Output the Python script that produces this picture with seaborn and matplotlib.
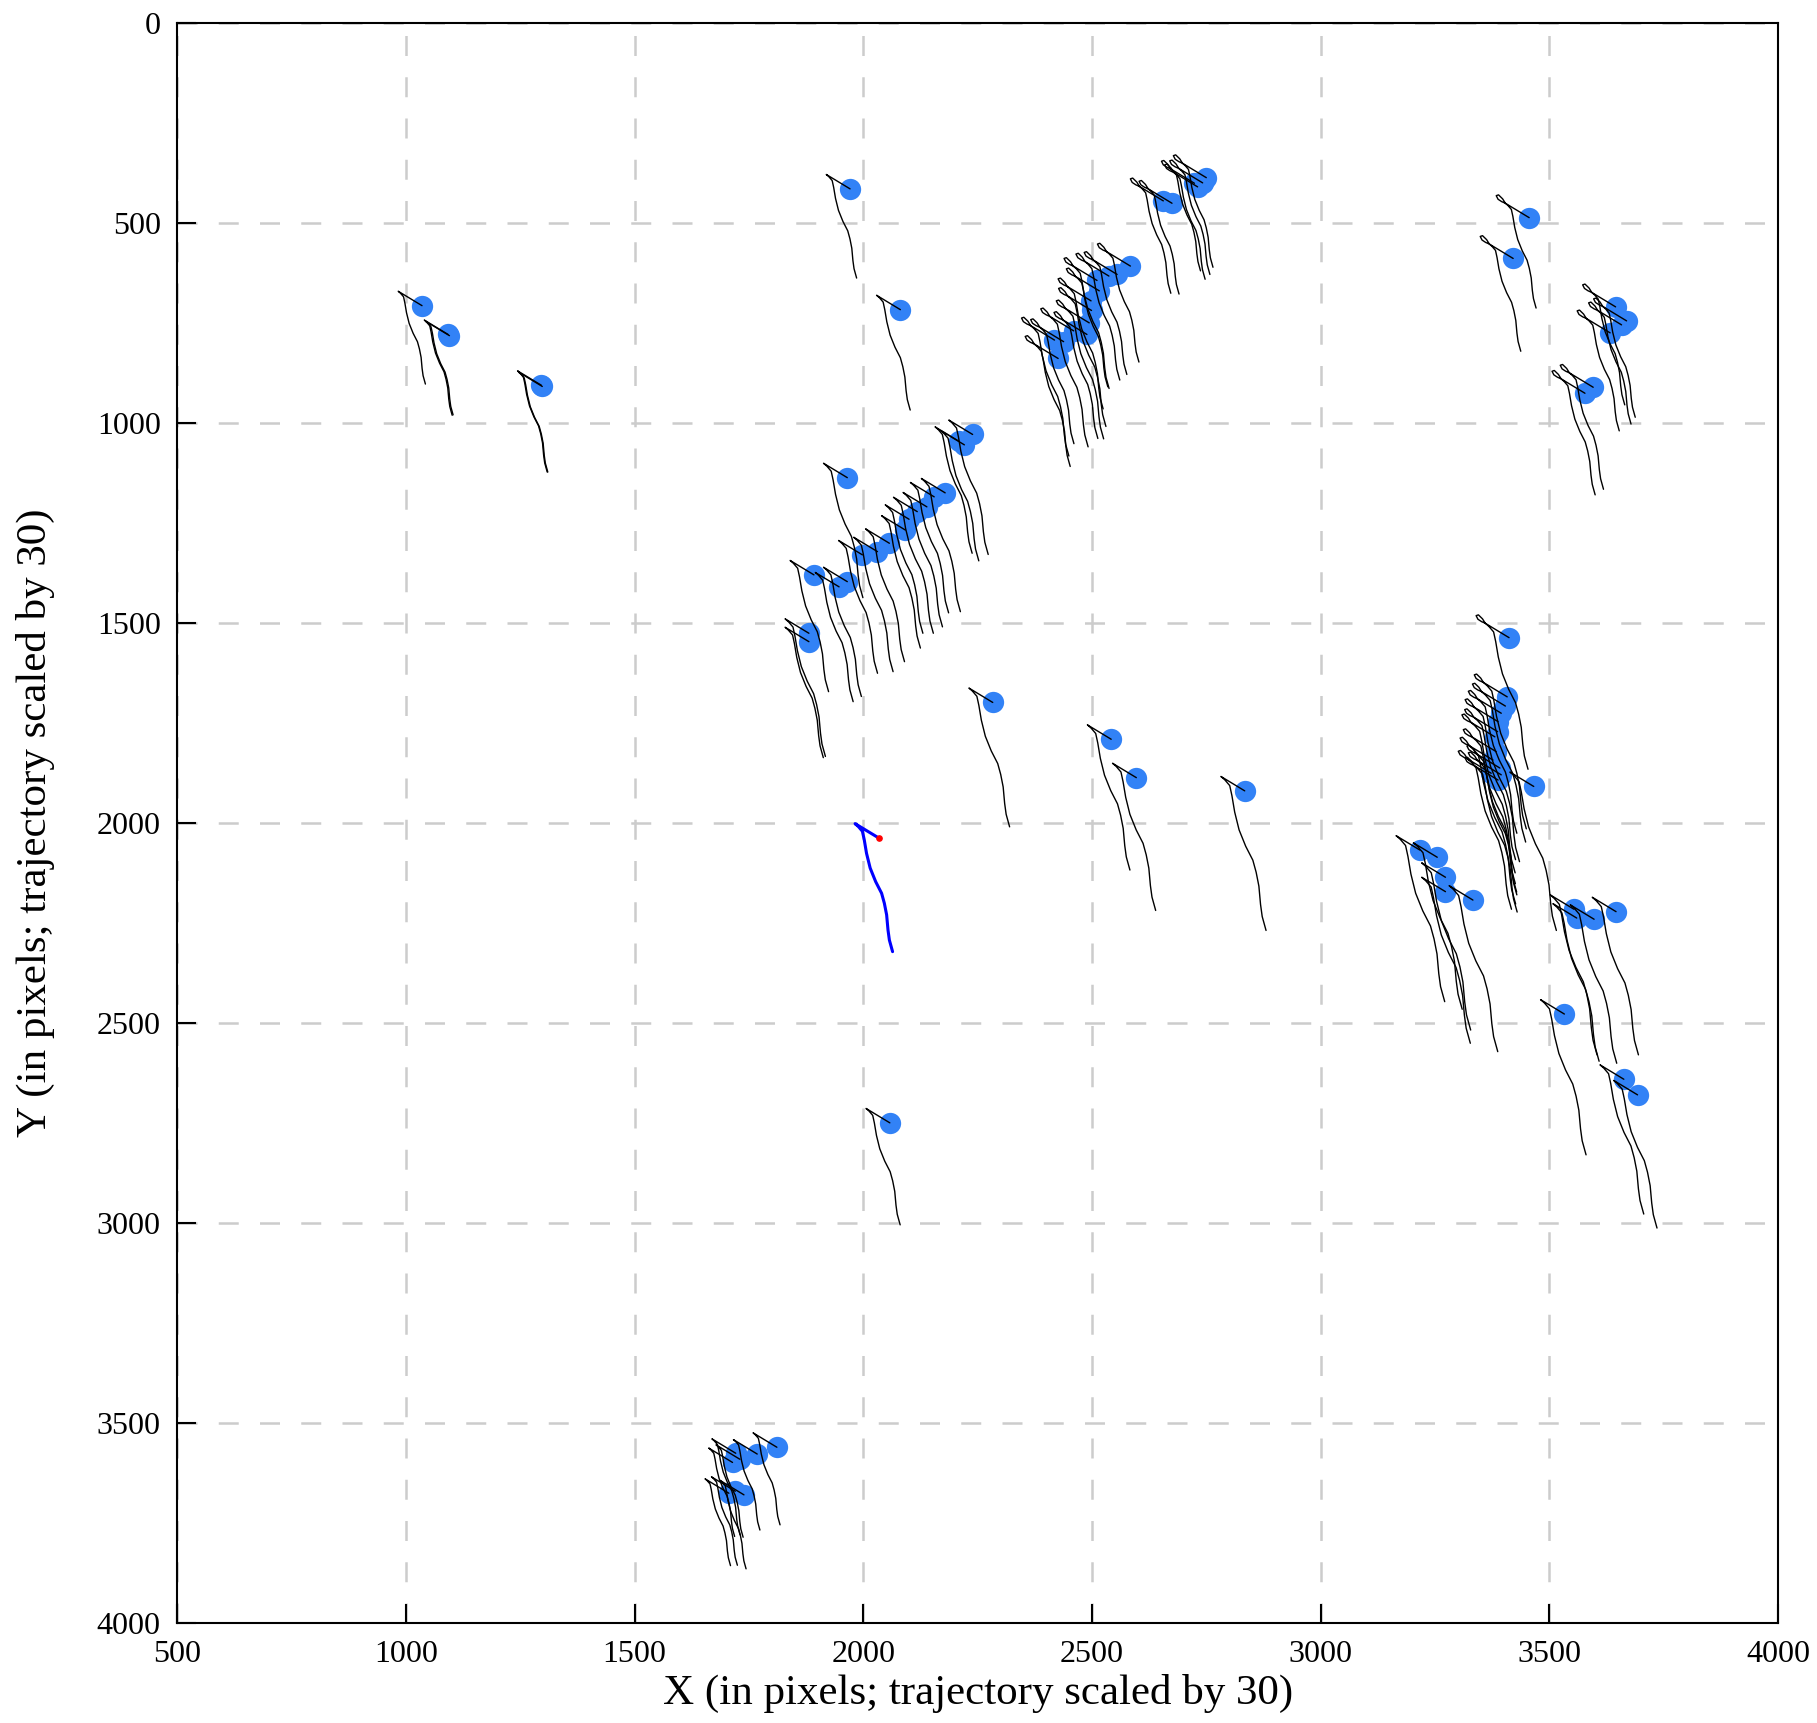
import numpy as np
import pandas as pd
import matplotlib
matplotlib.use("Agg")
import matplotlib.pyplot as plt
import seaborn as sns

# ---- data -------------------------------------------------------------
# current positions (blue dots) of the agents, image pixels
DOT_X = [1035, 1092, 1095, 1296, 1298,
         1971, 2081,
         2418, 2438, 2426, 2460, 2489, 2494, 2499, 2498, 2516, 2511, 2537, 2555, 2584,
         2656, 2675, 2750, 2742, 2731, 2724,
         3456, 3421, 3645, 3669, 3633, 3658, 3596, 3578,
         2239, 2221, 2209, 2179, 2155, 2139, 2118, 2100, 2092, 2057, 2031, 1998, 1965, 1947,
         1892, 1881, 1881, 1965,
         2283, 2542, 2597, 2834,
         3412, 3408, 3404, 3395, 3388, 3387, 3381, 3384, 3377, 3392, 3388, 3373, 3395, 3466,
         3217, 3255, 3273, 3273, 3333,
         3554, 3560, 3598, 3646,
         3533, 3663, 3693,
         2058,
         1811, 1768, 1721, 1714, 1730, 1739, 1706, 1720]
DOT_Y = [706, 778, 781, 905, 908,
         414, 716,
         792, 796, 838, 769, 778, 749, 718, 694, 669, 643, 632, 628, 607,
         444, 450, 386, 399, 409, 400,
         486, 588, 709, 744, 774, 754, 910, 925,
         1028, 1054, 1045, 1174, 1184, 1209, 1221, 1240, 1267, 1300, 1321, 1329, 1396, 1409,
         1379, 1525, 1546, 1136,
         1698, 1790, 1886, 1919,
         1536, 1684, 1707, 1725, 1746, 1771, 1784, 1821, 1842, 1862, 1892, 1875, 1879, 1908,
         2067, 2085, 2135, 2171, 2192,
         2215, 2237, 2240, 2221,
         2477, 2640, 2679,
         2749,
         3560, 3577, 3575, 3598, 3590, 3679, 3675, 3670]
# vertical reach of each (scaled) trajectory below its dot
TAIL_LEN = [196, 202, 198, 217, 214,
            223, 251,
            290, 255, 270, 290, 260, 290, 290, 270, 240, 270, 260, 250, 240,
            231, 227, 224, 229, 231, 219,
            226, 232, 245, 241, 245, 248, 255, 254,
            300, 290, 280, 297, 290, 300, 304, 285, 295, 296, 300, 296, 287, 287,
            292, 308, 290, 300,
            311, 327, 332, 349,
            329, 330, 340, 300, 350, 320, 340, 330, 360, 310, 330, 340, 300, 360,
            379, 380, 382, 379, 379,
            364, 358, 360, 358,
            352, 337, 333,
            255,
            194, 190, 204, 185, 195, 185, 181, 185]
# whether the trajectory has a small loop at its turning point
LOOP = [0] * 5 + [0] * 2 + [1] * 13 + [1] * 6 + [1] * 8 + [0] * 18 + [0] * 4 + \
       [1] * 13 + [0] + [0] * 5 + [0] * 4 + [0] * 3 + [0] + [0] * 8

# highlighted trajectory (blue), offsets from its current position (red dot)
REF_X, REF_Y = 2034, 2037
TRAJ_DX = [0, -52, -45, -36, -32, -27, -19, -7, 6, 12, 17, 20, 23, 30]
TRAJ_DY = [0, -36, -29, -17, 4, 38, 75, 109, 138, 163, 192, 230, 255, 284]
LOOP_DX = [-8, -16, -20, -15, -6]
LOOP_DY = [-4, -10, -19, -21, -11]

# ---- build trajectories ----------------------------------------------
tdx = np.array(TRAJ_DX, float)
tdy = np.array(TRAJ_DY, float)
rows = []
for i, (x0, y0, L, lp) in enumerate(zip(DOT_X, DOT_Y, TAIL_LEN, LOOP)):
    k = (L - tdy[1]) / (tdy[-1] - tdy[1])
    tipx, tipy = x0 + tdx[1], y0 + tdy[1]
    xs = [x0, tipx]
    ys = [y0, tipy]
    if lp:
        xs += [tipx + a for a in LOOP_DX] + [tipx]
        ys += [tipy + b for b in LOOP_DY] + [tipy]
    xs += list(tipx + (tdx[2:] - tdx[1]) * k)
    ys += list(tipy + (tdy[2:] - tdy[1]) * k)
    for j, (a, b) in enumerate(zip(xs, ys)):
        rows.append((i, j, a, b))
traj = pd.DataFrame(rows, columns=["agent", "step", "x", "y"])
dots = pd.DataFrame({"x": DOT_X, "y": DOT_Y})
ref = pd.DataFrame({"x": REF_X + tdx, "y": REF_Y + tdy, "step": range(len(tdx))})

# ---- plot --------------------------------------------------------------
sns.set_theme(style="white")
plt.rcParams["font.family"] = ["Liberation Serif", "DejaVu Serif"]

fig = plt.figure(figsize=(18.17, 17.23), dpi=100)
ax = fig.add_axes([0.0976, 0.0579, 0.8809, 0.9286])

sns.scatterplot(data=dots, x="x", y="y", ax=ax, s=235, color="#3282F6",
                linewidth=0, zorder=2, legend=False)
sns.lineplot(data=traj, x="x", y="y", units="agent", estimator=None, sort=False,
             ax=ax, color="black", linewidth=1.0, zorder=3, legend=False)
sns.lineplot(data=ref, x="x", y="y", estimator=None, sort=False, ax=ax,
             color="#0000FF", linewidth=2.2, zorder=4, legend=False)
ax.plot([REF_X], [REF_Y], "o", color="red", markersize=3.8, zorder=5)

ax.set_xlim(500, 4000)
ax.set_ylim(4000, 0)
ax.set_xticks(np.arange(500, 4001, 500))
ax.set_yticks(np.arange(0, 4001, 500))
ax.grid(True, color="#cccccc", linestyle=(0, (8, 8.5)), linewidth=1.8)
ax.set_axisbelow(True)
for sp in ax.spines.values():
    sp.set_color("black")
    sp.set_linewidth(1.5)
ax.tick_params(axis="both", direction="in", length=14, width=1.5, color="black",
               labelsize=23, labelcolor="black", bottom=True, left=True,
               top=False, right=False)
ax.tick_params(axis="x", pad=12)
ax.tick_params(axis="y", pad=12)
ax.set_xlabel("X (in pixels; trajectory scaled by 30)", fontsize=31, color="black", labelpad=4)
ax.set_ylabel("Y (in pixels; trajectory scaled by 30)", fontsize=31, color="black", labelpad=30)

fig.savefig("out.png", dpi=100)
